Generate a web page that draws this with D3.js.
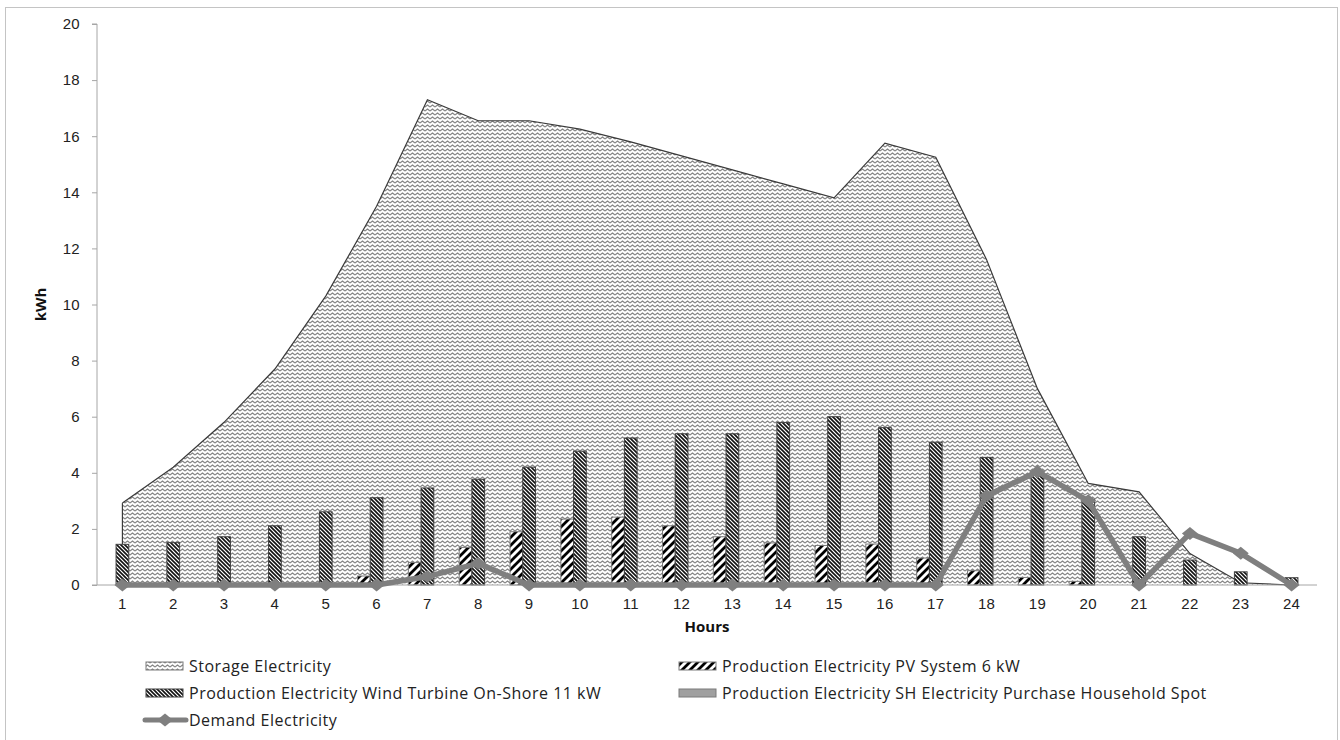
<!DOCTYPE html>
<html>
<head>
<meta charset="utf-8">
<script src="https://cdn.jsdelivr.net/npm/d3@7"></script>
<style>
  body { margin: 0; background: #fff; }
  svg { display: block; font-family: 'Open Sans', sans-serif; }
  .axis path, .axis line { stroke: #a6a6a6; }
  .axis text { font-size: 15px; fill: #222; letter-spacing: 0.3px; }
  .label { font-size: 15px; font-weight: bold; fill: #111; }
  .legend text { font-size: 16px; fill: #222; letter-spacing: 0.5px; }
</style>
</head>
<body>
<div id="plot"></div>
<script>
const hours = [1, 2, 3, 4, 5, 6, 7, 8, 9, 10, 11, 12, 13, 14, 15, 16, 17, 18, 19, 20, 21, 22, 23, 24];
const storage = [2.92, 4.2, 5.8, 7.7, 10.3, 13.5, 17.3, 16.55, 16.55, 16.25, 15.8, 15.3, 14.8, 14.3, 13.8, 15.75, 15.25, 11.6, 7.0, 3.62, 3.32, 1.12, 0.08, 0];
const pv = [0, 0, 0, 0, 0, 0.32, 0.8, 1.34, 1.9, 2.35, 2.42, 2.11, 1.72, 1.5, 1.41, 1.46, 0.96, 0.51, 0.27, 0.13, 0, 0, 0, 0];
const wind = [1.45, 1.51, 1.72, 2.11, 2.61, 3.11, 3.46, 3.77, 4.2, 4.77, 5.24, 5.39, 5.39, 5.79, 6.0, 5.61, 5.09, 4.55, 4.05, 3.05, 1.72, 0.89, 0.47, 0.26];
const purchase = [0, 0, 0, 0, 0, 0, 0, 0, 0, 0, 0, 0, 0, 0, 0, 0, 0, 0, 0, 0, 0, 0, 0, 0];
const demand = [0, 0, 0, 0, 0, 0, 0.3, 0.77, 0, 0, 0, 0, 0, 0, 0, 0, 0, 3.18, 4.04, 3.0, 0, 1.84, 1.13, 0];
const yTicks = [0, 2, 4, 6, 8, 10, 12, 14, 16, 18, 20];
const legendNames = [
  'Storage Electricity',
  'Production Electricity PV System 6 kW',
  'Production Electricity Wind Turbine On-Shore 11 kW',
  'Production Electricity SH Electricity Purchase Household Spot',
  'Demand Electricity'
];

const W = 1340, H = 740;
const plotLeft = 97, plotRight = 1317, plotTop = 24, plotBottom = 585;

const svg = d3.select('#plot').append('svg')
  .attr('width', W)
  .attr('height', H);

// patterns
const defs = svg.append('defs');

const zig = defs.append('pattern')
  .attr('id', 'zigzag')
  .attr('patternUnits', 'userSpaceOnUse')
  .attr('width', 5).attr('height', 4);
zig.append('rect').attr('width', 5).attr('height', 4).attr('fill', '#fff');
zig.append('path')
  .attr('d', 'M0,3 L2.5,1 L5,3')
  .attr('fill', 'none')
  .attr('stroke', '#858585')
  .attr('stroke-width', 1.2);

const dense = defs.append('pattern')
  .attr('id', 'dense')
  .attr('patternUnits', 'userSpaceOnUse')
  .attr('width', 4).attr('height', 4);
dense.append('rect').attr('width', 4).attr('height', 4).attr('fill', '#fff');
dense.append('path')
  .attr('d', 'M-1,-1 L5,5 M-1,3 L1,5 M3,-1 L5,1')
  .attr('stroke', '#111')
  .attr('stroke-width', 1.6);

const wide = defs.append('pattern')
  .attr('id', 'wide')
  .attr('patternUnits', 'userSpaceOnUse')
  .attr('width', 8).attr('height', 8);
wide.append('rect').attr('width', 8).attr('height', 8).attr('fill', '#fff');
wide.append('path')
  .attr('d', 'M-2,10 L10,-2 M-2,2 L2,-2 M6,10 L10,6')
  .attr('stroke', '#000')
  .attr('stroke-width', 2.8);

// outer frame
svg.append('rect')
  .attr('x', 5.5).attr('y', 7.5)
  .attr('width', 1332).attr('height', 760)
  .attr('fill', 'none')
  .attr('stroke', '#c4c4c4');

const x = d3.scaleBand()
  .domain(hours)
  .range([plotLeft, plotRight]);

const xGroup = d3.scaleBand()
  .domain(hours)
  .range([plotLeft, plotRight])
  .paddingInner(0.25)
  .paddingOuter(0.125);

const seriesKeys = ['pv', 'wind', 'purchase'];
const xSub = d3.scaleBand()
  .domain(seriesKeys)
  .range([0, xGroup.bandwidth()]);

const y = d3.scaleLinear()
  .domain([0, 20])
  .range([plotBottom, plotTop]);

const cx = (h) => x(h) + x.bandwidth() / 2;

// storage area
const area = d3.area()
  .x((d, i) => cx(hours[i]))
  .y0(y(0))
  .y1((d) => y(d));

svg.append('path')
  .datum(storage)
  .attr('d', area)
  .attr('fill', 'url(#zigzag)');

svg.append('path')
  .datum(storage)
  .attr('d', d3.line().x((d, i) => cx(hours[i])).y((d) => y(d)))
  .attr('fill', 'none')
  .attr('stroke', '#3a3a3a')
  .attr('stroke-width', 1.2);

svg.append('line')
  .attr('x1', cx(hours[0])).attr('x2', cx(hours[0]))
  .attr('y1', y(0)).attr('y2', y(storage[0]))
  .attr('stroke', '#3a3a3a')
  .attr('stroke-width', 1.2);

// bars
const barData = [];
hours.forEach((h, i) => {
  barData.push({ h: h, key: 'pv', v: pv[i] });
  barData.push({ h: h, key: 'wind', v: wind[i] });
  barData.push({ h: h, key: 'purchase', v: purchase[i] });
});
const barFill = { pv: 'url(#wide)', wind: 'url(#dense)', purchase: '#a0a0a0' };
const barStroke = { pv: '#7a7a7a', wind: '#404040', purchase: '#7a7a7a' };

svg.append('g')
  .selectAll('rect')
  .data(barData.filter((d) => d.v > 0))
  .enter()
  .append('rect')
  .attr('x', (d) => xGroup(d.h) + xSub(d.key))
  .attr('y', (d) => y(d.v))
  .attr('width', xSub.bandwidth())
  .attr('height', (d) => y(0) - y(d.v))
  .attr('fill', (d) => barFill[d.key])
  .attr('stroke', (d) => barStroke[d.key])
  .attr('stroke-width', 1);

// axes
svg.append('g')
  .attr('class', 'axis')
  .attr('transform', `translate(${plotLeft},0)`)
  .call(d3.axisLeft(y).tickValues(yTicks).tickSize(5).tickPadding(12))
  .call((g) => g.select('.domain').attr('d', `M-5,${y(20)}H0V${y(0)}`));

svg.append('g')
  .attr('class', 'axis')
  .attr('transform', `translate(0,${plotBottom})`)
  .call(d3.axisBottom(x).tickSize(0).tickPadding(13))
  .call((g) => g.select('.domain').attr('d', `M${plotLeft - 5},0H${plotRight}`));

// demand line
const demandColor = '#7f7f7f';
const diamondPath = 'M0,-6.5 L8,0 L0,6.5 L-8,0 Z';

svg.append('path')
  .datum(demand)
  .attr('d', d3.line().x((d, i) => cx(hours[i])).y((d) => y(d)))
  .attr('fill', 'none')
  .attr('stroke', demandColor)
  .attr('stroke-width', 5.5)
  .attr('stroke-linejoin', 'round');

svg.append('g')
  .selectAll('path')
  .data(demand)
  .enter()
  .append('path')
  .attr('d', diamondPath)
  .attr('transform', (d, i) => `translate(${cx(hours[i])},${y(d)})`)
  .attr('fill', demandColor);

// axis titles
svg.append('text')
  .attr('class', 'label')
  .attr('transform', `translate(46,${(plotTop + plotBottom) / 2}) rotate(-90)`)
  .attr('text-anchor', 'middle')
  .text('kWh');

svg.append('text')
  .attr('class', 'label')
  .attr('x', (plotLeft + plotRight) / 2)
  .attr('y', 632)
  .attr('text-anchor', 'middle')
  .text('Hours');

// legend
const legend = svg.append('g').attr('class', 'legend');
const legendPos = [
  { x: 146, y: 666 },
  { x: 679, y: 666 },
  { x: 146, y: 693 },
  { x: 679, y: 693 },
  { x: 146, y: 720 }
];
const legendFill = ['url(#zigzag)', 'url(#wide)', 'url(#dense)', '#a0a0a0', null];
const legendStroke = ['#7a7a7a', '#7a7a7a', '#404040', '#7a7a7a', null];

legendNames.forEach((name, i) => {
  const p = legendPos[i];
  if (legendFill[i]) {
    legend.append('rect')
      .attr('x', p.x).attr('y', p.y - 4)
      .attr('width', 37).attr('height', 8)
      .attr('fill', legendFill[i])
      .attr('stroke', legendStroke[i]);
  } else {
    legend.append('line')
      .attr('x1', p.x - 1).attr('x2', p.x + 40)
      .attr('y1', p.y).attr('y2', p.y)
      .attr('stroke', demandColor)
      .attr('stroke-width', 5)
      .attr('stroke-linecap', 'round');
    legend.append('path')
      .attr('d', diamondPath)
      .attr('transform', `translate(${p.x + 19},${p.y})`)
      .attr('fill', demandColor);
  }
  legend.append('text')
    .attr('x', p.x + 43)
    .attr('y', p.y)
    .attr('dy', '0.35em')
    .text(name);
});
</script>
</body>
</html>
